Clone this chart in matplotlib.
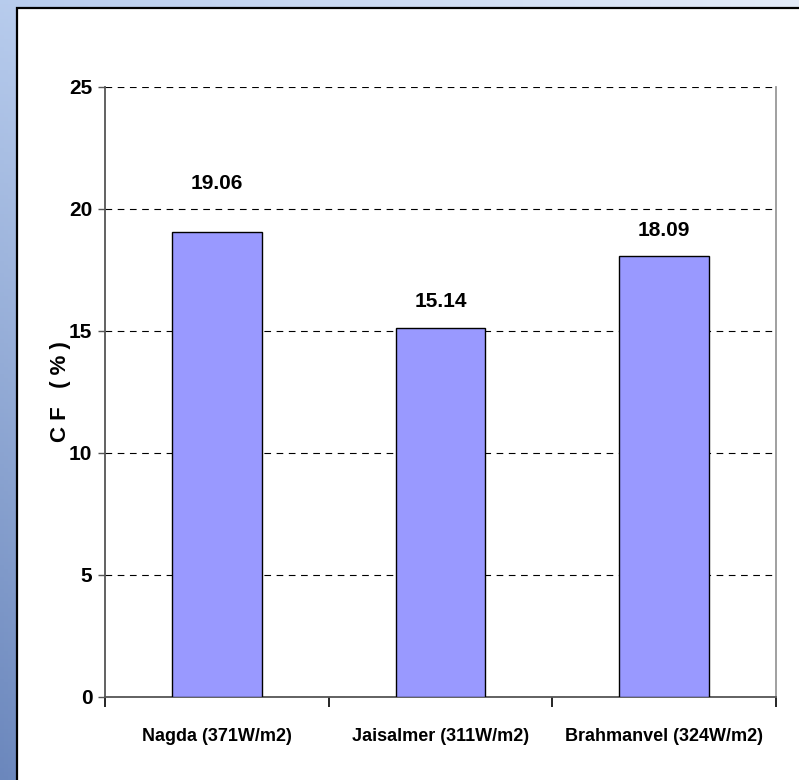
import matplotlib
matplotlib.use("Agg")
import matplotlib.pyplot as plt
from matplotlib import font_manager
import numpy as np

sites = ["Nagda (371W/m2)", "Jaisalmer (311W/m2)", "Brahmanvel (324W/m2)"]
cf_values = [19.06, 15.14, 18.09]
y_ticks = [0, 5, 10, 15, 20, 25]
# gap (points) between bar top and its value label
label_gaps = [28, 12, 11]

installed = {f.name for f in font_manager.fontManager.ttflist}
family = "Liberation Sans Narrow" if "Liberation Sans Narrow" in installed else "Liberation Sans"
plt.rcParams["font.family"] = family
plt.rcParams["font.weight"] = "bold"

W, H = 799, 780
fig = plt.figure(figsize=(W / 100, H / 100), dpi=100)

# blue slide background: light at the top, darker down the left side
bg = fig.add_axes([0, 0, 1, 1], zorder=-10)
yy, xx = np.mgrid[0:1:200j, 0:1:200j]
top = np.array([0.72, 0.80, 0.93])
bottom = np.array([0.42, 0.53, 0.74])
right = np.array([0.89, 0.92, 0.97])
col = top[None, None, :] * (1 - yy[..., None]) + bottom[None, None, :] * yy[..., None]
col = col * (1 - xx[..., None]) + right[None, None, :] * xx[..., None]
bg.imshow(col, extent=[0, 1, 0, 1], aspect="auto", origin="upper")
bg.add_patch(plt.Rectangle((17 / W, -0.1), 1, 1.1 - 8 / H, facecolor="white",
                           edgecolor="black", linewidth=1.6))
bg.set_xlim(0, 1)
bg.set_ylim(0, 1)
bg.axis("off")

ax = fig.add_axes([105 / W, 1 - 697 / H, (776 - 105) / W, (697 - 87) / H])
ax.set_facecolor("none")
x = np.arange(len(sites))
ax.bar(x, cf_values, width=0.4, color="#9999ff", edgecolor="black",
       linewidth=1.0, zorder=3)
for xi, v, gap in zip(x, cf_values, label_gaps):
    ax.annotate(f"{v:.2f}", (xi, v), xytext=(0, gap), textcoords="offset points",
                ha="center", va="bottom", fontsize=15, fontweight="bold")

ax.set_xlim(-0.5, len(sites) - 0.5)
ax.set_ylim(0, 25)
ax.set_yticks(y_ticks)
ax.set_yticklabels([str(t) for t in y_ticks], fontsize=15, fontweight="bold")
ax.yaxis.grid(True, linestyle=(0, (6, 5)), color="black", linewidth=0.8)
ax.set_axisbelow(True)

ax.set_xticks(x)
ax.set_xticklabels(sites, fontsize=13, fontweight="bold")
ax.tick_params(axis="x", length=0, pad=22)
ax.set_xticks(np.arange(len(sites) + 1) - 0.5, minor=True)
ax.tick_params(axis="x", which="minor", length=7, width=1.2, color="black")
ax.tick_params(axis="y", length=5, width=1, color="#555555", pad=4)

for s in ("left", "bottom"):
    ax.spines[s].set_color("#555555")
    ax.spines[s].set_linewidth(1.3)
ax.spines["right"].set_color("#999999")
ax.spines["right"].set_linewidth(1.3)
ax.spines["top"].set_visible(False)

ax.set_ylabel("C F   ( % )", fontsize=16, fontweight="bold")
ax.yaxis.set_label_coords(-0.05, 0.5)

fig.savefig("out.png", dpi=100)
